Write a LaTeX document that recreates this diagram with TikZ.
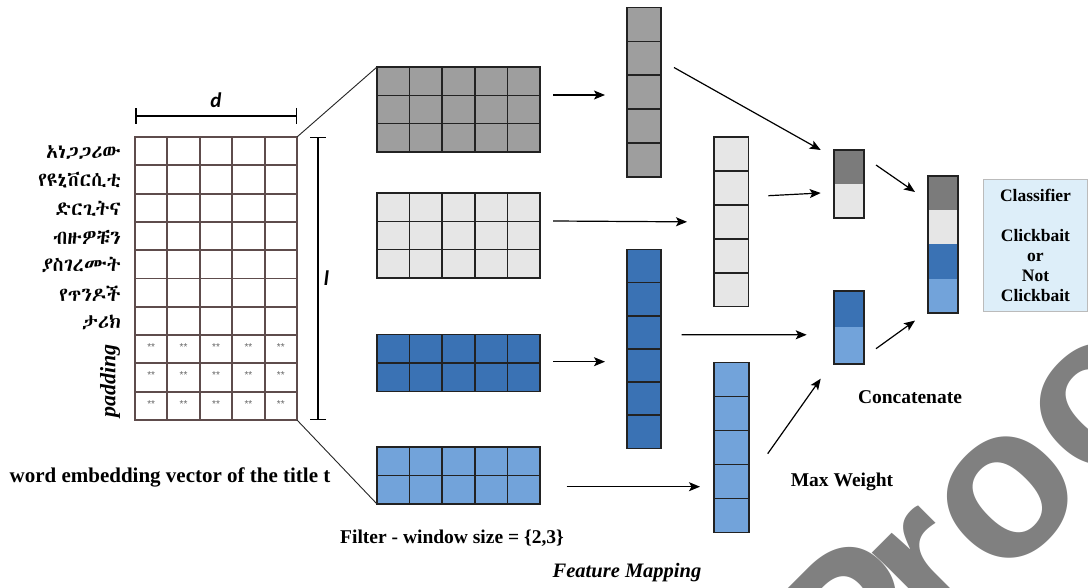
\documentclass[tikz,border=0pt]{standalone}
\usepackage{fontspec}
\setmainfont{Liberation Serif}
\newfontfamily\wmfont{Liberation Sans}
\newfontfamily\dimfont{Carlito}
\IfFontExistsTF{Abyssinica SIL}{\newfontfamily\ethfont{Abyssinica SIL}}{%
 \IfFontExistsTF{FreeSerif.otf}{\newfontfamily\ethfont{FreeSerif.otf}}{%
  \IfFontExistsTF{FreeSerif}{\newfontfamily\ethfont{FreeSerif}}{%
   \IfFontExistsTF{Noto Sans Ethiopic}{\newfontfamily\ethfont{Noto Sans Ethiopic}}{%
    \newfontfamily\ethfont{DejaVu Sans}}}}}
\usetikzlibrary{calc,arrows.meta}
\definecolor{gridc}{HTML}{5E4C4C}
\definecolor{gdark}{HTML}{9E9E9E}
\definecolor{glight}{HTML}{E6E6E6}
\definecolor{pgdark}{HTML}{7B7B7B}
\definecolor{bdark}{HTML}{3A72B4}
\definecolor{blight}{HTML}{72A3DA}
\definecolor{clsfill}{HTML}{DDEEF9}
\definecolor{clsdraw}{HTML}{BBBBBB}
\definecolor{wmark}{HTML}{808080}
\definecolor{cellline}{HTML}{222222}
\newcommand{\drawcellgrid}[4]{%
  \pgfmathtruncatemacro{\gcm}{#2-1}%
  \pgfmathtruncatemacro{\grm}{#3-1}%
  \ifnum\gcm>0
    \foreach \i in {1,...,\gcm}{\draw[#4] ($(#1.north west)!\i/#2!(#1.north east)$) -- ($(#1.south west)!\i/#2!(#1.south east)$);}%
  \fi
  \ifnum\grm>0
    \foreach \j in {1,...,\grm}{\draw[#4] ($(#1.north west)!\j/#3!(#1.south west)$) -- ($(#1.north east)!\j/#3!(#1.south east)$);}%
  \fi
}
\begin{document}
\begin{tikzpicture}[x=1pt,y=-1pt,
  blk/.style={draw=cellline, line width=1.6pt, inner sep=0pt, outer sep=0pt},
  cellln/.style={draw=cellline, line width=1.6pt},
  gridln/.style={draw=gridc, line width=1.9pt},
  arr/.style={-{Stealth[length=11pt,width=9pt,inset=2.5pt]}, line width=1.2pt, draw=black},
  thinln/.style={line width=0.9pt, draw=black!85},
  dim/.style={{Bar[width=16pt]}-{Bar[width=16pt]}, line width=1.5pt},
  lbl/.style={font=\fontsize{19.5}{22}\selectfont\bfseries, inner sep=0pt},
  eth/.style={font=\ethfont\fontsize{19.5}{21}\selectfont, inner sep=0pt, anchor=east},
  ast/.style={font=\wmfont\fontsize{10}{10}\selectfont, text=black!60, inner sep=0pt},
  dimlbl/.style={font=\dimfont\bfseries\itshape\fontsize{21}{24}\selectfont, inner sep=0pt},
  wm/.style={font=\wmfont\bfseries\fontsize{215}{215}\selectfont, text=wmark, inner sep=0pt, outer sep=0pt}
]
\useasboundingbox (0,0) rectangle (1088,588);
% watermark
\begin{scope}
  \clip (0,0) rectangle (1088,588);
  \node[wm, rotate=45, anchor=base west] (wmk) at (841.1,744.9) {\kern0.1em P\kern-0.1em roof};
\end{scope}

% embedding matrix
\node[draw=gridc, line width=1.9pt, fill=white, inner sep=0pt, outer sep=0pt,
      minimum width=162pt, minimum height=283pt] (emb) at (216,278.5) {};
\drawcellgrid{emb}{5}{10}{gridln}
\foreach \w [count=\i, evaluate=\i as \fr using (\i-0.5)/10] in
  {አነጋጋሪው,የዩኒቨርሲቲ,ድርጊትና,ብዙዎቹን,ያስገረሙት,የጥንዶች,ታሪክ}
  {\node[eth] (w\i) at ($(emb.north west)!\fr!(emb.south west)+(-14,1)$) {\w};}
\foreach \r in {8,9,10}
  \foreach \c in {1,...,5}
    {\node[ast] (ast\r\c) at ({135+32.4*(\c-0.5)},{137+28.3*(\r-1)+12}) {**};}
\node[font=\fontsize{22}{24}\selectfont\bfseries\itshape, rotate=90, inner sep=0pt] (pad) at (110,381) {padding};

% dimension lines
\draw[dim] ([shift={(0,-21)}]emb.north west) -- ([shift={(0,-21)}]emb.north east)
  node[dimlbl, midway, above=8pt] (dl) {d};
\draw[dim] ([shift={(21,0)}]emb.north east) -- ([shift={(21,0)}]emb.south east)
  node[dimlbl, midway, right=5pt] (ll) {l};

% filters
\node[blk, fill=gdark,  minimum width=163pt, minimum height=85pt] (f1) at (458.5,109.5) {};
\node[blk, fill=glight, minimum width=163pt, minimum height=85pt] (f2) at (458.5,235.5) {};
\node[blk, fill=bdark,  minimum width=163pt, minimum height=57pt] (f3) at (458.5,363) {};
\node[blk, fill=blight, minimum width=163pt, minimum height=57pt] (f4) at (458.5,475.5) {};
\drawcellgrid{f1}{5}{3}{cellln}
\drawcellgrid{f2}{5}{3}{cellln}
\drawcellgrid{f3}{5}{2}{cellln}
\drawcellgrid{f4}{5}{2}{cellln}
\draw[thinln] (emb.north east) -- (f1.north west);
\draw[thinln] (emb.south east) -- (f4.south west);

% feature maps
\node[blk, fill=gdark,  minimum width=34pt, minimum height=169.5pt] (m1) at (644,92.25) {};
\node[blk, fill=glight, minimum width=34.5pt, minimum height=169.7pt] (m2) at (731.25,221.85) {};
\node[blk, fill=bdark,  minimum width=34pt, minimum height=198.8pt] (m3) at (644,348.9) {};
\node[blk, fill=blight, minimum width=35pt, minimum height=170pt] (m4) at (731.5,447.5) {};
\drawcellgrid{m1}{1}{5}{cellln}
\drawcellgrid{m2}{1}{5}{cellln}
\drawcellgrid{m3}{1}{6}{cellln}
\drawcellgrid{m4}{1}{5}{cellln}

% pooled vectors
\node[draw=cellline, line width=2pt, inner sep=0pt, outer sep=0pt, minimum width=30pt, minimum height=67.6pt,
  path picture={\fill[pgdark] (path picture bounding box.north west) rectangle (path picture bounding box.east);
                \fill[glight] (path picture bounding box.west) rectangle (path picture bounding box.south east);}]
  (p1) at (849,183.8) {};
\node[draw=cellline, line width=2pt, inner sep=0pt, outer sep=0pt, minimum width=30pt, minimum height=73.4pt,
  path picture={\fill[bdark] (path picture bounding box.north west) rectangle (path picture bounding box.east);
                \fill[blight] (path picture bounding box.west) rectangle (path picture bounding box.south east);}]
  (p2) at (849,327.3) {};

% concatenated vector
\node[draw=cellline, line width=2.2pt, inner sep=0pt, outer sep=0pt, minimum width=29.4pt, minimum height=137.6pt,
  path picture={
    \fill[pgdark] (path picture bounding box.north west) rectangle ($(path picture bounding box.north east)!0.25!(path picture bounding box.south east)$);
    \fill[glight] ($(path picture bounding box.north west)!0.25!(path picture bounding box.south west)$) rectangle (path picture bounding box.east);
    \fill[bdark] (path picture bounding box.west) rectangle ($(path picture bounding box.north east)!0.75!(path picture bounding box.south east)$);
    \fill[blight] ($(path picture bounding box.north west)!0.75!(path picture bounding box.south west)$) rectangle (path picture bounding box.south east);}]
  (cc) at (943,244.5) {};

% classifier
\node[draw=clsdraw, fill=clsfill, line width=1pt, minimum width=104pt, minimum height=131.7pt,
      align=center, font=\fontsize{17.5}{20}\selectfont\bfseries, inner sep=0pt] (cls) at (1035.5,245.8)
  {Classifier\\[20pt]Clickbait\\or\\Not\\Clickbait};

% arrows
\draw[arr] ([shift={(13,-14.5)}]f1.east) -- ([shift={(-22,2.75)}]m1.west);
\draw[arr] ([shift={(13,-14.5)}]f2.east) -- ([shift={(-27,0)}]m2.west);
\draw[arr] ([shift={(13,-1.3)}]f3.east) -- ([shift={(-22,12.8)}]m3.west);
\draw[arr] ([shift={(26.7,11.2)}]f4.east) -- ([shift={(-14,39.2)}]m4.west);
\draw[arr] ([shift={(13,-24.75)}]m1.east) -- ([shift={(-13.3,0)}]p1.north west);
\draw[arr] ([shift={(19.8,-26.15)}]m2.east) -- ([shift={(-13.3,9.2)}]p1.west);
\draw[arr] ([shift={(20.7,-14.1)}]m3.east) -- ([shift={(-27.3,7.5)}]p2.west);
\draw[arr] ([shift={(18.7,6.2)}]m4.east) -- ([shift={(-13.3,14.7)}]p2.south west);
\draw[arr] ([shift={(12,-18.8)}]p1.east) -- ([shift={(-13.3,16.3)}]cc.north west);
\draw[arr] ([shift={(12,21.4)}]p2.east) -- ([shift={(-13.3,7.3)}]cc.south west);

% labels
\node[lbl, font=\fontsize{21}{24}\selectfont\bfseries] (t1) at (170,477) {word embedding vector of the title t};
\node[lbl] (t2) at (452,538) {Filter - window size = \{2,3\}};
\node[lbl, font=\fontsize{20.5}{22}\selectfont\bfseries\itshape] (t3) at (627,573) {Feature Mapping};
\node[lbl] (t4) at (842,482) {Max Weight};
\node[lbl] (t5) at (910,397) {Concatenate};
\end{tikzpicture}
\end{document}
